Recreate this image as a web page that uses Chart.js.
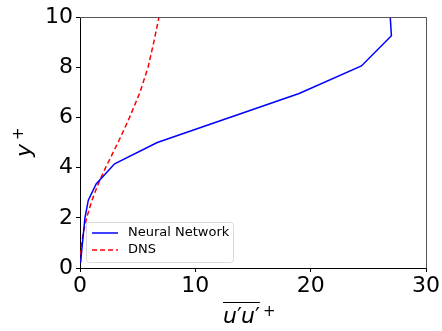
<!DOCTYPE html>
<html><head><meta charset="utf-8">
<script src="https://cdn.jsdelivr.net/npm/chart.js@4"></script>
<style>html,body{margin:0;padding:0;background:#fff}#wrap{width:442px;height:331px}</style>
</head><body><div id="wrap"><canvas id="c" width="442" height="331"></canvas></div>
<script>
const nnX = [0.05, 0.15, 0.43, 0.72, 1.4, 3.0, 6.7, 19.0, 24.4, 27.0, 26.9];
const nnY = [0.2, 0.7, 2.0, 2.7, 3.35, 4.15, 5.0, 6.95, 8.05, 9.25, 10.0];
const dnsX = [0.01, 0.05, 0.15, 0.33, 0.58, 0.9, 1.28, 1.72, 2.22, 3.3, 4.3, 5.2, 5.9, 6.4, 6.85];
const dnsY = [0.2, 0.5, 1, 1.5, 2, 2.5, 3, 3.5, 4, 5, 6, 7, 8, 9, 10];
const seriesNames = ['Neural Network', 'DNS'];
const xTicks = [0, 10, 20, 30];
const yTicks = [0, 2, 4, 6, 8, 10];

const F = 'DejaVu Sans';
const toPts = (xs, ys) => xs.map((x, i) => ({x: x, y: ys[i]}));

const decor = {
  id: 'decor',
  afterDraw(chart) {
    const ctx = chart.ctx, a = chart.chartArea;
    ctx.save();
    // top and right spines
    ctx.strokeStyle = '#555'; ctx.lineWidth = 1;
    ctx.beginPath();
    ctx.moveTo(Math.round(a.left), Math.round(a.top) + 0.5);
    ctx.lineTo(Math.round(a.right) + 0.5, Math.round(a.top) + 0.5);
    ctx.lineTo(Math.round(a.right) + 0.5, Math.round(a.bottom));
    ctx.stroke();
    // legend
    const lx = 86, ly = 222, lw = 147, lh = 40;
    ctx.globalAlpha = 0.8;
    ctx.fillStyle = '#fff';
    ctx.beginPath();
    ctx.roundRect(lx + 0.5, ly + 0.5, lw, lh, 3);
    ctx.fill();
    ctx.globalAlpha = 1;
    ctx.strokeStyle = '#d9d9d9';
    ctx.stroke();
    ctx.font = '13px "' + F + '"';
    ctx.textBaseline = 'middle';
    ctx.fillStyle = '#000';
    const rows = [{c: 'blue', d: []}, {c: 'red', d: [5, 3]}];
    rows.forEach((r, i) => {
      const yy = ly + 11 + i * 17;
      ctx.strokeStyle = r.c; ctx.lineWidth = 1.5; ctx.setLineDash(r.d);
      ctx.beginPath(); ctx.moveTo(92, yy); ctx.lineTo(118, yy); ctx.stroke();
      ctx.setLineDash([]);
      ctx.fillText(seriesNames[i], 128, yy);
    });
    // x axis title with overline: u′u′ (italic u, upright prime)
    ctx.fillStyle = '#000';
    ctx.textBaseline = 'alphabetic';
    ctx.textAlign = 'left';
    const xs = 223, base = 323;
    let cx = xs;
    const parts = [['u', 'italic 22px'], ['\u2032', '22px'], ['u', 'italic 22px'], ['\u2032', '22px']];
    parts.forEach(p => {
      ctx.font = p[1] + ' "' + F + '"';
      ctx.fillText(p[0], cx, base);
      cx += ctx.measureText(p[0]).width - (p[0] === 'u' ? 0 : 1);
    });
    const w = cx - xs;
    ctx.strokeStyle = '#000'; ctx.lineWidth = 1.2;
    ctx.beginPath(); ctx.moveTo(xs, 302.5); ctx.lineTo(xs + w + 1, 302.5); ctx.stroke();
    ctx.font = '15px "' + F + '"';
    ctx.fillText('+', xs + w + 4, 316);
    // y axis title
    ctx.translate(31, 157);
    ctx.rotate(-Math.PI / 2);
    ctx.font = 'italic 22px "' + F + '"';
    ctx.fillText('y', 0, 0);
    ctx.font = '15px "' + F + '"';
    ctx.fillText('+', 17, -8);
    ctx.restore();
  }
};

new Chart(document.getElementById('c'), {
  type: 'scatter',
  data: {
    datasets: [
      {label: seriesNames[0], data: toPts(nnX, nnY), showLine: true, borderColor: 'blue', borderWidth: 1.5, pointRadius: 0, fill: false, tension: 0},
      {label: seriesNames[1], data: toPts(dnsX, dnsY), showLine: true, borderColor: 'red', borderWidth: 1.5, borderDash: [5, 3], pointRadius: 0, fill: false, tension: 0}
    ]
  },
  options: {
    responsive: false,
    animation: false,
    devicePixelRatio: 1,
    layout: {padding: {left: 0, right: 16, top: 17, bottom: 0}},
    plugins: {legend: {display: false}, tooltip: {enabled: false}},
    scales: {
      x: {
        type: 'linear', min: 0, max: 30,
        afterBuildTicks: s => { s.ticks = xTicks.map(v => ({value: v})); },
        afterFit: s => { s.height = 63; },
        grid: {drawOnChartArea: false, tickLength: 4, color: '#000'},
        border: {display: true, color: '#000'},
        ticks: {font: {family: F, size: 22}, color: '#000', padding: 1, maxRotation: 0}
      },
      y: {
        type: 'linear', min: 0, max: 10,
        afterBuildTicks: s => { s.ticks = yTicks.map(v => ({value: v})); },
        afterFit: s => { s.width = 80; },
        grid: {drawOnChartArea: false, tickLength: 4, color: '#000'},
        border: {display: true, color: '#000'},
        ticks: {font: {family: F, size: 22}, color: '#000', padding: 3}
      }
    }
  },
  plugins: [decor]
});
</script></body></html>
